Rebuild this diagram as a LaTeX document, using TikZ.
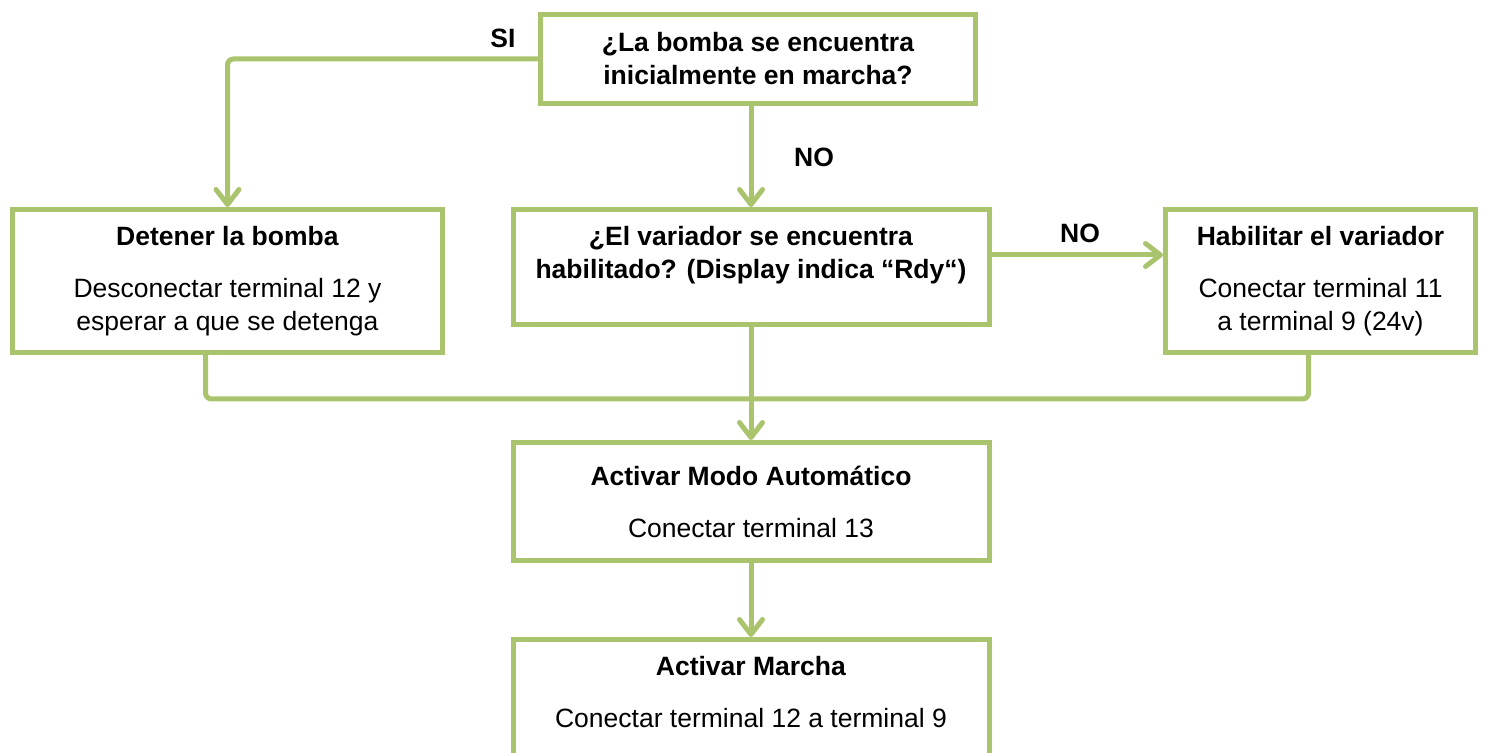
\documentclass[tikz,border=0pt]{standalone}
\usepackage{fontspec}
\setmainfont{Liberation Sans}
\usetikzlibrary{arrows.meta}
\definecolor{verde}{RGB}{169,196,108}

\begin{document}
\begin{tikzpicture}[x=0.5pt, y=-0.5pt,
    caja/.style={draw=verde, line width=2.5pt, align=center, inner sep=0pt,
        font=\fontsize{13.25}{16.5}\selectfont},
    linea/.style={draw=verde, line width=2.5pt, rounded corners=3pt},
    flecha/.style={linea, -{Straight Barb[length=7.5pt, width=11.5pt, round]}},
    etiqueta/.style={font=\fontsize{13.25}{16.5}\selectfont\bfseries, inner sep=0pt}]
    \useasboundingbox (0,0) rectangle (1485,753);
    \clip (0,0) rectangle (1485,753);
    % boxes (positions in pixels of the original)
    \node[caja, minimum width=217.5pt, minimum height=44.5pt] (bomba) at (758,59)
        {\textbf{¿La bomba se encuentra}\\\textbf{inicialmente en marcha?}};
    \node[caja, minimum width=215pt, minimum height=71.5pt] (detener) at (227.5,281)
        {\textbf{Detener la bomba}\\[9.5pt]Desconectar terminal 12 y\\esperar a que se detenga};
    \node[caja, minimum width=238pt, minimum height=57.5pt, text depth=15pt] (variador) at (751,267)
        {\textbf{¿El variador se encuentra}\\\textbf{habilitado? (Display indica “Rdy“)}};
    \node[caja, minimum width=155pt, minimum height=71.5pt] (habilitar) at (1320.5,281)
        {\textbf{Habilitar el variador}\\[9.5pt]Conectar terminal 11\\a terminal 9 (24v)};
    \node[caja, minimum width=238pt, minimum height=59pt] (modo) at (751,501.5)
        {\textbf{Activar Modo Automático}\\[9.5pt]Conectar terminal 13};
    \node[caja, minimum width=238pt, minimum height=64pt, text depth=12pt] (marcha) at (751,703.5)
        {\textbf{Activar Marcha}\\[9.5pt]Conectar terminal 12 a terminal 9};
    % answers
    \node[etiqueta] (si) at (503,38) {SI};
    \node[etiqueta] (no1) at (814,157) {NO};
    \node[etiqueta] (no2) at (1080,233) {NO};
    % connectors
    \coordinate (union) at (749,399);
    \draw[flecha] (bomba.west) -| (detener.north);
    \draw[flecha] (variador.north |- bomba.south) -- (variador.north);
    \draw[flecha] (variador.east |- 0,255) -- (habilitar.west |- 0,255);
    \draw[linea] ([xshift=-11pt]detener.south) |- (union) -| ([xshift=-6pt]habilitar.south);
    \draw[flecha] (variador.south) -- (modo.north);
    \draw[flecha] (modo.south) -- (marcha.north);
\end{tikzpicture}
\end{document}
